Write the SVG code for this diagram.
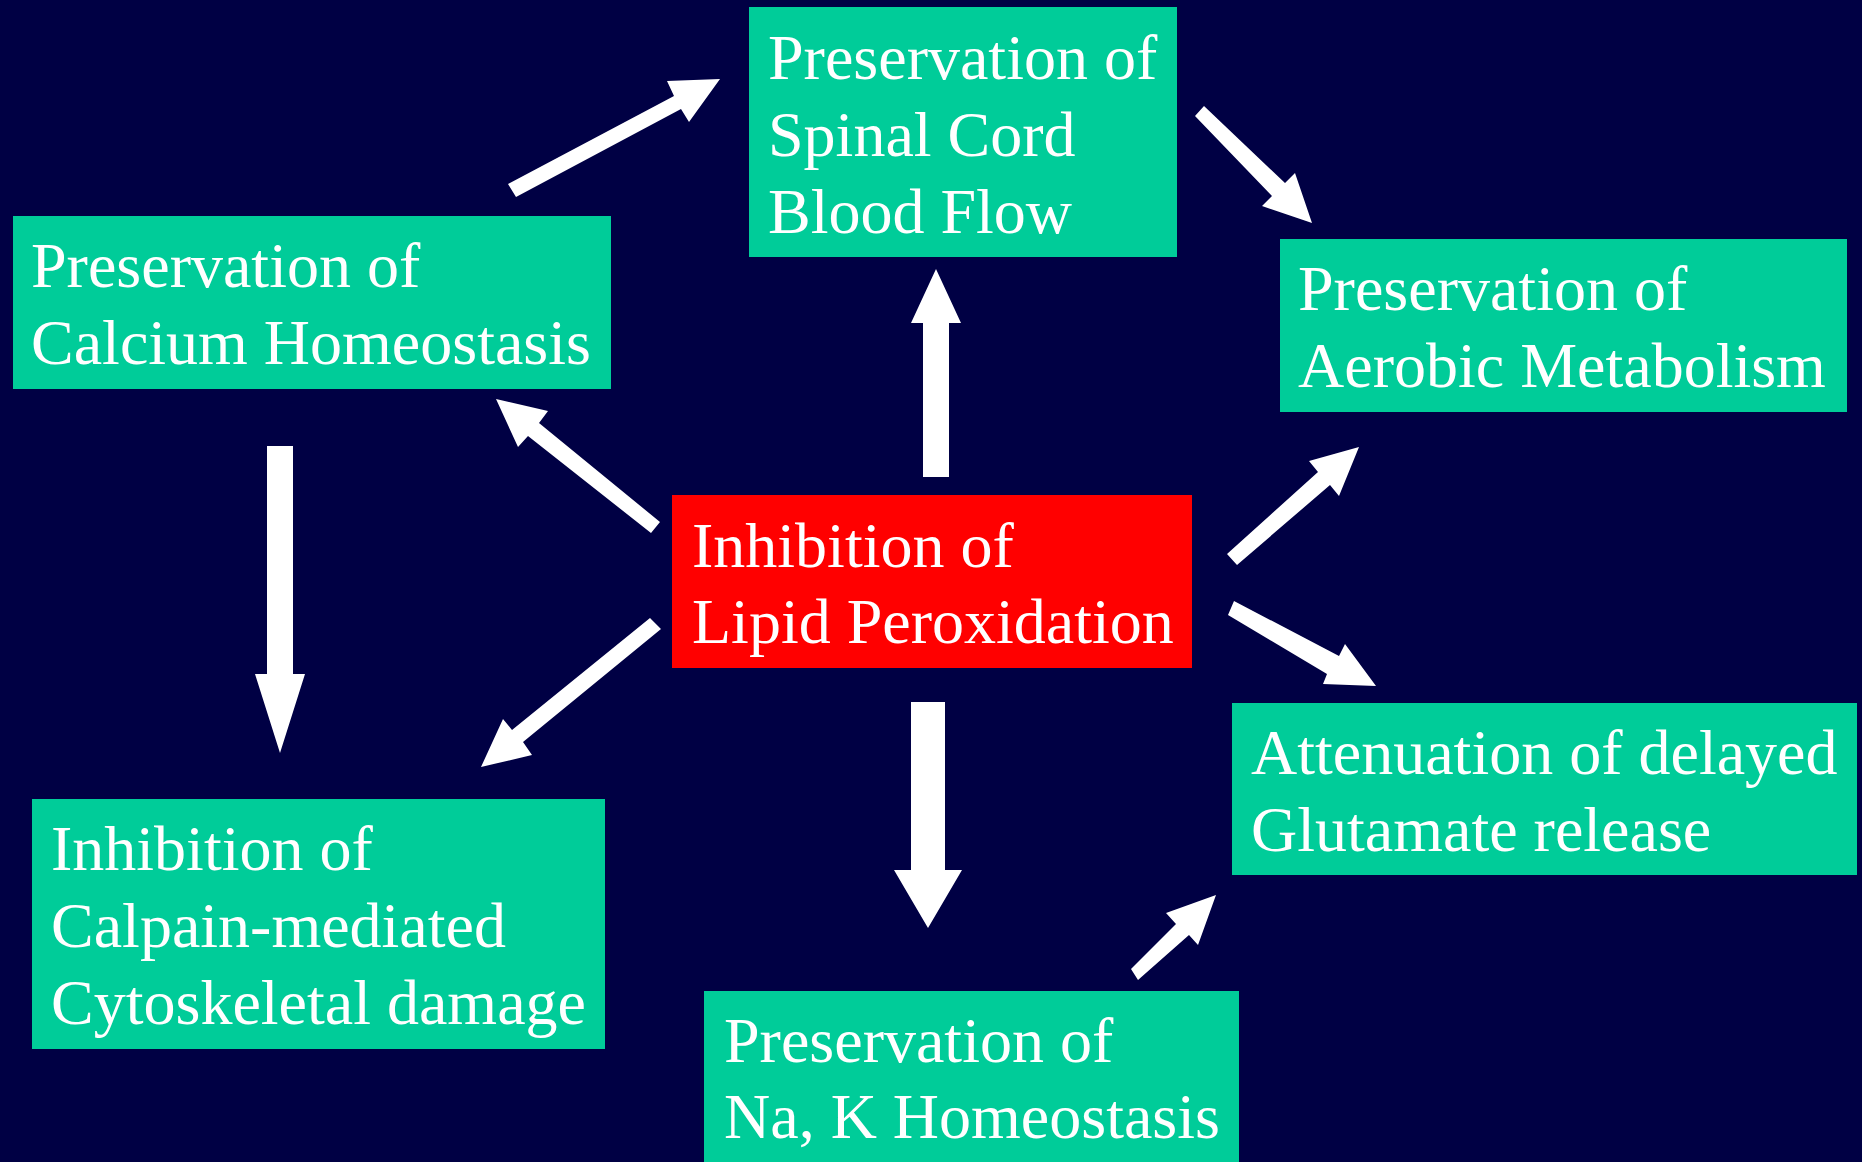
<svg xmlns="http://www.w3.org/2000/svg" width="1862" height="1162" viewBox="0 0 1862 1162">
<style>
.bg{fill:#000044}
.box{fill:#00CC99}
.red{fill:#FF0000}
.t{font-family:"Liberation Serif","Times New Roman",serif;font-size:64px;fill:#FFFFFF}
.arr{fill:#FFFFFF}
</style>
<rect class="bg" x="0" y="0" width="1862" height="1162"/>
<g id="connectors">
<polygon class="arr" points="508,184 674,96 667,81 720,79 689,122 681,109 516,197"/>
<polygon class="arr" points="923,477 923,323 911,323 936,269 961,323 949,323 949,477"/>
<polygon class="arr" points="1195,116 1204,106 1285,183 1295,173 1312,223 1262,206 1272,196"/>
<polygon class="arr" points="496,399 548,411 539,423 660,522 651,533 528,436 518,447"/>
<polygon class="arr" points="267,446 293,446 293,674 305,674 280,753 255,674 267,674"/>
<polygon class="arr" points="650,618 661,629 523,742 532,755 481,767 503,719 512,730"/>
<polygon class="arr" points="911,702 945,702 945,870 962,870 928,928 894,870 911,870"/>
<polygon class="arr" points="1227,554 1318,472 1309,461 1359,447 1339,496 1330,485 1237,565"/>
<polygon class="arr" points="1234,601 1339,656 1345,644 1376,686 1323,684 1327,674 1228,615"/>
<polygon class="arr" points="1131,969 1176,924 1166,913 1216,895 1198,945 1189,935 1138,980"/>
</g>
<g id="spinal">
<rect class="box" x="749" y="7" width="428" height="250"/>
<text class="t" x="768" y="79">Preservation of</text>
<text class="t" x="768" y="156">Spinal Cord</text>
<text class="t" x="768" y="233">Blood Flow</text>
</g>
<g id="calcium">
<rect class="box" x="13" y="216" width="598" height="173"/>
<text class="t" x="31" y="287">Preservation of</text>
<text class="t" x="31" y="364">Calcium Homeostasis</text>
</g>
<g id="aerobic">
<rect class="box" x="1280" y="239" width="567" height="173"/>
<text class="t" x="1298" y="310">Preservation of</text>
<text class="t" x="1298" y="387">Aerobic Metabolism</text>
</g>
<g id="lipid">
<rect class="red" x="672" y="495" width="520" height="173"/>
<text class="t" x="692" y="567">Inhibition of</text>
<text class="t" x="692" y="643">Lipid Peroxidation</text>
</g>
<g id="calpain">
<rect class="box" x="32" y="799" width="573" height="250"/>
<text class="t" x="51" y="870">Inhibition of</text>
<text class="t" x="51" y="947">Calpain-mediated</text>
<text class="t" x="51" y="1024">Cytoskeletal damage</text>
</g>
<g id="glutamate">
<rect class="box" x="1232" y="703" width="625" height="172"/>
<text class="t" x="1251" y="774">Attenuation of delayed</text>
<text class="t" x="1251" y="851">Glutamate release</text>
</g>
<g id="nak">
<rect class="box" x="704" y="991" width="535" height="171"/>
<text class="t" x="724" y="1062">Preservation of</text>
<text class="t" x="724" y="1138">Na, K Homeostasis</text>
</g>
</svg>
